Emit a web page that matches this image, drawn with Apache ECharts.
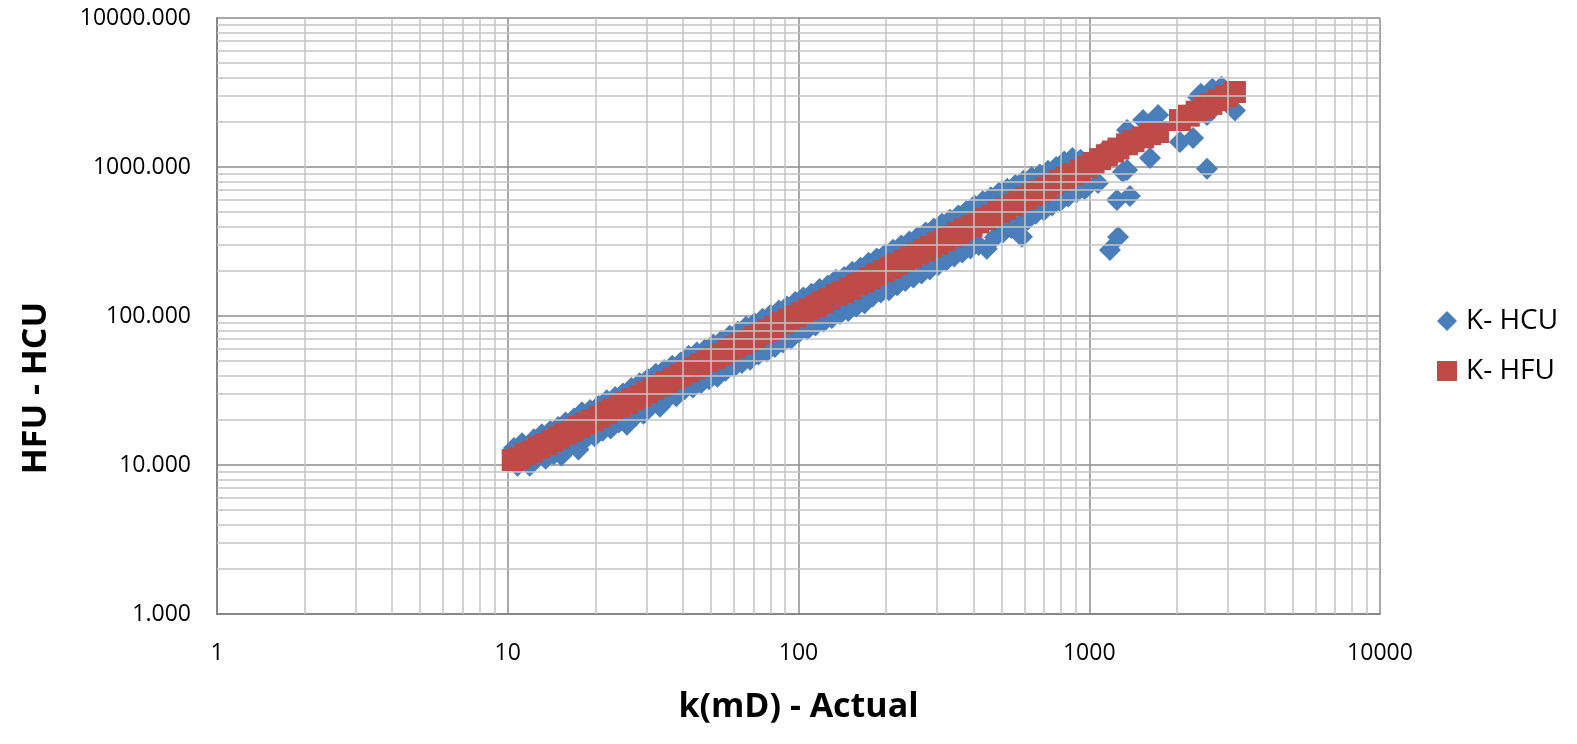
<!DOCTYPE html>
<html>
<head>
<meta charset="utf-8">
<script src="https://cdn.jsdelivr.net/npm/echarts@6/dist/echarts.min.js"></script>
<style>
html,body{margin:0;padding:0;background:#fff;}
#chart{width:1577px;height:744px;}
</style>
</head>
<body>
<div id="chart"></div>
<script>
// ---- data ----
const seriesNames = ['K- HCU', 'K- HFU'];
const xTitle = 'k(mD) - Actual';
const yTitle = 'HFU - HCU';
const xTickLabels = ['1', '10', '100', '1000', '10000'];
const decades = [1, 10, 100, 1000];
const minorSteps = [2, 3, 4, 5, 6, 7, 8, 9];

// K- HCU (blue diamonds): actual k (x) and HCU k (y)
const hcuK = [
  10.5, 10.8, 11.2, 11.6, 11.9, 12.3, 12.7, 13.1, 13.5, 14.0, 14.4, 14.9, 15.3, 15.8, 16.4, 16.9, 17.5, 18.0, 18.6, 19.2,
  19.9, 20.5, 21.2, 21.9, 22.6, 23.4, 24.1, 24.9, 25.7, 26.6, 27.5, 28.4, 29.3, 30.3, 31.3, 32.3, 33.4, 34.5, 35.6, 36.8,
  38.0, 39.3, 40.6, 41.9, 43.3, 44.7, 46.2, 47.7, 49.3, 50.9, 52.6, 54.3, 56.1, 58.0, 59.9, 61.9, 63.9, 66.0, 68.2, 70.5,
  72.8, 75.2, 77.7, 80.2, 82.9, 85.6, 88.4, 91.3, 94.3, 97.4,
  100.6, 103.9, 107.3, 110.8, 114.4, 118.2, 122.1, 126.1, 130.2, 134.5, 138.9, 143.5, 148.2, 153.1, 158.1, 163.3, 168.7, 174.2, 179.9, 185.8,
  191.9, 198.2, 204.7, 211.4, 218.3, 225.5, 232.9, 240.5, 248.4, 256.6, 265.0, 273.7, 282.7, 292.0, 301.5, 311.4, 321.6, 332.2, 343.1, 354.3,
  366.0, 378.0, 390.4, 403.2, 416.4, 430.1, 444.2, 458.8, 473.8, 489.4, 505.4, 522.0, 539.2, 556.9, 575.2, 587.0, 594.0, 613.5, 633.6, 654.4,
  675.9, 698.1, 721.0, 744.7, 769.1, 794.4, 820.4, 847.4, 875.2, 903.9, 933.6, 964.2,
  982, 1072, 1040, 1110, 1178, 1256, 1245, 1380, 1306, 1349, 1349, 1531, 1725, 1618, 2051, 2275, 2541, 2367, 2541, 2420,
  2650, 2850, 3170
];
const hcuVal = [
  13.0, 9.9, 14.0, 10.4, 9.9, 14.9, 11.3, 16.1, 11.0, 16.9, 11.8, 18.0, 11.6, 19.3, 13.4, 20.5, 12.7, 22.6, 15.1, 23.4,
  15.6, 24.9, 17.0, 27.2, 17.6, 28.6, 19.3, 30.2, 18.6, 32.9, 21.3, 35.4, 22.1, 37.8, 25.2, 41.0, 24.6, 43.4, 28.2, 46.3,
  28.9, 48.8, 32.3, 54.0, 33.1, 56.9, 35.4, 59.7, 37.6, 64.5, 39.1, 68.2, 42.9, 73.8, 45.4, 78.5, 48.4, 84.6, 50.9, 89.5,
  55.1, 95.8, 57.7, 102, 62.0, 109, 66.4, 116, 70.4, 124,
  78.0, 133, 81.3, 141, 86.5, 152, 91.6, 160, 97.1, 175, 103, 183, 108, 198, 116, 211, 122, 228, 135, 243,
  144, 259, 149, 278, 161, 297, 172, 316, 181, 338, 193, 364, 205, 387, 219, 416, 235, 442, 251, 472,
  267, 507, 284, 551, 300, 588, 283, 627, 338, 671, 365, 714, 389, 758, 411, 340, 808, 443, 853, 485,
  892, 510, 942, 551, 1000, 588, 1090, 634, 1150, 677, 1120, 713,
  734, 781, 1120, 1250, 277, 339, 601, 640, 925, 955, 1771, 2066, 2234, 1148, 1472, 1567, 975, 2951, 2234, 3100,
  3350, 3450, 2390
];

// K- HFU (red squares): actual k (x) and HFU k (y)
const hfuK = [
  10.4, 10.9, 11.5, 12.1, 12.8, 13.5, 14.2, 15.0, 15.8, 16.7, 17.6, 18.6, 19.6, 20.7, 21.8, 23.0, 24.3, 25.6, 27.0, 28.5,
  30.1, 31.7, 33.5, 35.3, 37.3, 39.3, 41.5, 43.8, 46.2, 48.7, 51.4, 54.2, 57.2, 60.4, 63.7, 67.2, 70.9, 74.8, 78.9, 83.3,
  87.8, 92.7, 97.8, 103.2, 108.8, 114.8, 121.2, 127.8, 134.9, 142.3, 150.1, 158.4, 167.1, 176.3, 186.0, 196.3, 207.1, 218.5, 230.5, 243.2,
  256.6, 270.7, 285.6, 301.3, 317.9, 335.4, 353.8, 373.3, 393.8, 415.5, 438.4, 462.5, 487.9, 514.8, 543.1, 573.0, 604.5, 637.8, 672.9, 709.9,
  749.0, 790.2, 833.6, 879.5, 927.9, 979, 1035, 1090, 1150, 1207, 1260, 1349, 1420, 1530, 1620, 1723,
  2051, 2200, 2340, 2480, 2630, 2790, 2950, 3170
];
const hfuVal = [
  10.8, 11.1, 11.8, 12.3, 13.1, 13.8, 14.5, 15.3, 16.2, 17.0, 18.0, 19.0, 20.0, 21.1, 22.3, 23.5, 24.8, 26.1, 27.6, 29.1,
  30.7, 32.3, 34.2, 36.0, 38.1, 40.1, 42.3, 44.7, 47.1, 49.7, 52.4, 55.3, 58.3, 61.6, 65.0, 68.5, 72.3, 76.3, 80.5, 85.0,
  89.6, 94.5, 99.8, 105, 111, 117, 124, 130, 138, 145, 153, 162, 170, 180, 190, 200, 211, 223, 235, 248,
  262, 276, 291, 307, 324, 342, 361, 381, 402, 424, 447, 472, 498, 525, 554, 584, 617, 651, 686, 724,
  764, 806, 850, 897, 946, 999, 1065, 1130, 1200, 1270, 1330, 1420, 1490, 1580, 1660, 1718,
  2066, 2210, 2350, 2500, 2650, 2810, 2980, 3186
];

// ---- build ----
const hcuData = hcuK.map((k, i) => [k, hcuVal[i]]);
const hfuData = hfuK.map((k, i) => [k, hfuVal[i]]);
const minorLines = [];
decades.forEach(d => minorSteps.forEach(m => {
  minorLines.push({ xAxis: d * m });
  minorLines.push({ yAxis: d * m });
}));

const FONT = "'Open Sans', Lato, sans-serif";
const chart = echarts.init(document.getElementById('chart'), null, { renderer: 'canvas' });
chart.setOption({
  animation: false,
  backgroundColor: '#ffffff',
  grid: { left: 217, top: 18, right: 197, bottom: 130, containLabel: false },
  graphic: [{
    type: 'text', x: 36, y: 388, rotation: Math.PI / 2,
    style: { text: yTitle, fontFamily: FONT, fontWeight: 'bold', fontSize: 34, fill: '#000',
      textAlign: 'center', textVerticalAlign: 'middle' }
  }],
  xAxis: {
    type: 'log', logBase: 10, min: 1, max: 10000,
    name: xTitle, nameLocation: 'middle', nameGap: 76,
    nameTextStyle: { fontFamily: FONT, fontWeight: 'bold', fontSize: 34, color: '#000' },
    axisLine: { show: true, lineStyle: { color: '#868686', width: 2 } },
    axisTick: { show: false },
    axisLabel: { fontFamily: FONT, fontSize: 23, color: '#000', margin: 28,
      formatter: v => xTickLabels[Math.round(Math.log10(v))] },
    splitLine: { show: true, lineStyle: { color: '#8c8c8c', width: 1.5 } }
  },
  yAxis: {
    type: 'log', logBase: 10, min: 1, max: 10000,
    axisLine: { show: true, lineStyle: { color: '#868686', width: 2 } },
    axisTick: { show: false },
    axisLabel: { fontFamily: FONT, fontSize: 23, color: '#000', margin: 26,
      formatter: v => v.toFixed(3) },
    splitLine: { show: true, lineStyle: { color: '#8c8c8c', width: 1.5 } }
  },
  legend: {
    data: [
      { name: seriesNames[0], icon: 'diamond' },
      { name: seriesNames[1], icon: 'rect' }
    ],
    orient: 'vertical', left: 1432, top: 302,
    itemWidth: 20, itemHeight: 20, itemGap: 22,
    textStyle: { fontFamily: FONT, fontSize: 28, color: '#000', padding: [0, 0, 0, 4] }
  },
  series: [
    {
      name: 'minor-grid', type: 'scatter', data: [], z: 1, silent: true,
      markLine: {
        silent: true, symbol: ['none', 'none'], animation: false,
        label: { show: false },
        lineStyle: { color: '#c4c4c4', width: 1.5, type: 'solid' },
        emphasis: { disabled: true },
        data: minorLines
      }
    },
    {
      name: seriesNames[0], type: 'scatter', symbol: 'diamond', symbolSize: 22, z: 3,
      itemStyle: { color: '#4a7ebb', opacity: 1 }, data: hcuData
    },
    {
      name: seriesNames[1], type: 'scatter', symbol: 'rect', symbolSize: 22, z: 4,
      itemStyle: { color: '#be4b48', opacity: 1 }, data: hfuData
    }
  ]
});
</script>
</body>
</html>
